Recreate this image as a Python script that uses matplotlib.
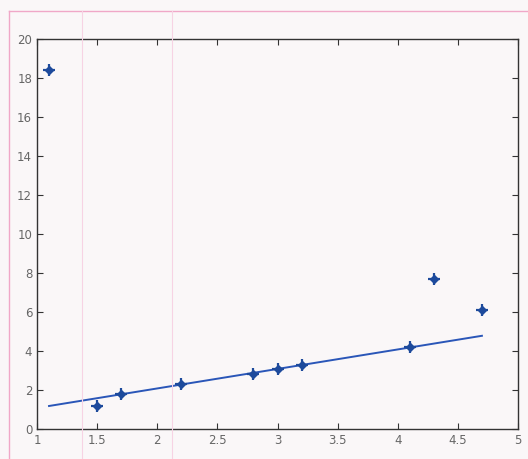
import numpy as np
import matplotlib
matplotlib.use("Agg")
import matplotlib.pyplot as plt
from matplotlib.lines import Line2D

# measured points
x_pts = [1.1, 1.5, 1.7, 2.2, 2.8, 3.0, 3.2, 4.1, 4.3, 4.7]
y_pts = [18.4, 1.2, 1.8, 2.3, 2.8, 3.1, 3.3, 4.2, 7.7, 6.1]

# fitted line endpoints
fit_x = [1.1, 4.7]
fit_y = [1.18, 4.78]

x_ticks = [1, 1.5, 2, 2.5, 3, 3.5, 4, 4.5, 5]
y_ticks = [0, 2, 4, 6, 8, 10, 12, 14, 16, 18, 20]

fig = plt.figure(figsize=(5.28, 4.59), dpi=100)
fig.patch.set_facecolor("#faf7f8")

# faint pink ruling from the scanned page
pink = "#f0a8c8"
fig.add_artist(Line2D([9 / 528, 9 / 528], [0, 1 - 11 / 459], color=pink, lw=1.0))
fig.add_artist(Line2D([9 / 528, 1], [1 - 11 / 459, 1 - 11 / 459], color=pink, lw=1.0))
for px in (82, 172):
    fig.add_artist(Line2D([px / 528, px / 528], [0, 1 - 11 / 459], color="#f7d3e4", lw=0.8))

ax = fig.add_axes([37 / 528, 30 / 459, 481 / 528, 390 / 459])
ax.set_facecolor("none")

ax.plot(fit_x, fit_y, color="#2a56b8", lw=1.4)
# star-like marker: small diamond plus a cross
ax.plot(x_pts, y_pts, linestyle="none", marker="D", markersize=4,
        color="#1d4a9c", markeredgecolor="#1d4a9c")
ax.plot(x_pts, y_pts, linestyle="none", marker="+", markersize=9,
        markeredgewidth=1.6, color="#1d4a9c")

ax.set_xlim(1, 5)
ax.set_ylim(0, 20)
ax.set_xticks(x_ticks)
ax.set_xticklabels([f"{t:g}" for t in x_ticks])
ax.set_yticks(y_ticks)
ax.tick_params(direction="in", top=True, right=True, length=4,
               labelsize=8.5, labelcolor="#666666", color="#333333")
for s in ax.spines.values():
    s.set_color("#333333")
    s.set_linewidth(1.0)

fig.savefig("out.png", dpi=100, facecolor=fig.get_facecolor())
